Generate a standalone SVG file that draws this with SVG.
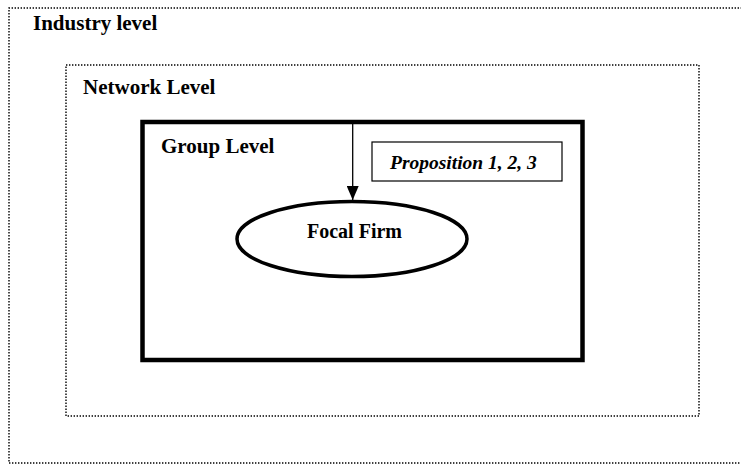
<svg xmlns="http://www.w3.org/2000/svg" width="741" height="464" viewBox="0 0 741 464">
<style>
text{font-family:'Liberation Serif','Times New Roman','DejaVu Serif',serif;font-weight:bold;font-size:21px;fill:#000}
.dot{fill:none;stroke:#000;stroke-width:1.4;stroke-dasharray:1.4 1.6}
</style>
<defs>
<marker id="ah" viewBox="0 0 14 12" refX="14" refY="6" markerWidth="14" markerHeight="12" markerUnits="userSpaceOnUse" orient="auto">
<path d="M0,0 L14,6 L0,12 Z" fill="#000"/>
</marker>
</defs>
<rect width="741" height="464" fill="#fff"/>
<g id="industry">
<path class="dot" d="M745,8 L9,8 L9,463 L745,463"/>
<text x="33" y="30">Industry level</text>
</g>
<g id="network">
<rect class="dot" x="66" y="65" width="633" height="351"/>
<text x="83" y="94">Network Level</text>
</g>
<g id="group">
<rect x="142.5" y="122" width="440" height="238" fill="none" stroke="#000" stroke-width="4.5"/>
<text x="161" y="153">Group Level</text>
</g>
<g id="proposition">
<rect x="372" y="142" width="190" height="39" fill="#fff" stroke="#000" stroke-width="1.2"/>
<text x="390" y="169" font-style="italic" style="font-size:19.5px">Proposition 1, 2, 3</text>
</g>
<g id="focal">
<ellipse cx="352" cy="239" rx="115" ry="37.5" fill="#fff" stroke="#000" stroke-width="3.5"/>
<text x="354.5" y="238" text-anchor="middle" style="font-size:20px">Focal Firm</text>
</g>
<g id="connectors">
<line x1="352.7" y1="124" x2="352.7" y2="200" stroke="#000" stroke-width="1.3" marker-end="url(#ah)"/>
</g>
</svg>
